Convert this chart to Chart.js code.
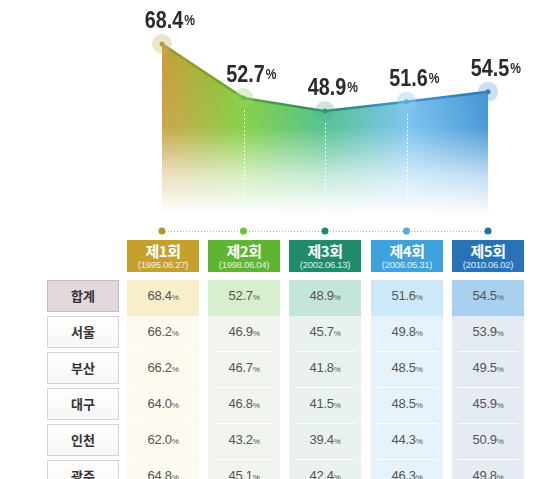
<!DOCTYPE html>
<html>
<head>
<meta charset="utf-8">
<script src="https://cdn.jsdelivr.net/npm/chart.js@4"></script>
<style>
  html, body { margin: 0; padding: 0; background: #fff; }
  body { width: 540px; height: 479px; position: relative; overflow: hidden;
         font-family: "Liberation Sans", "Noto Sans CJK KR", sans-serif; }
  #chartBox { position: absolute; left: 0; top: 0; width: 540px; height: 240px; }
  .cell { position: absolute; box-sizing: border-box; text-align: center; }
  .head { color: #fff; }
  .head .t { font-family: "Noto Sans CJK KR", sans-serif; font-weight: bold; font-size: 15px; line-height: 17px; margin-top: 2px; letter-spacing: -0.5px; }
  .head .d { font-size: 9.5px; line-height: 11px; opacity: 0.85; letter-spacing: -0.3px; }
  .lab { border: 1px solid #d4d4d4; background: linear-gradient(#fff, #f6f6f6);
         font-family: "Noto Sans CJK KR", sans-serif; font-weight: bold; font-size: 13px; color: #333; }
  .lab.sum { background: #e3d8de; border-color: #c9bcc4; }
  .val { font-size: 13px; color: #555; letter-spacing: -0.3px; }
  .val small { font-size: 8px; }
  .sep { position: absolute; height: 1px; background: rgba(255,255,255,0.9); }
</style>
</head>
<body>
<div id="chartBox"><canvas id="turnoutChart" width="540" height="240"></canvas></div>
<div id="table"></div>
<script>
// 역대 지방선거 투표율
const rounds = ['제1회', '제2회', '제3회', '제4회', '제5회'];
const dates = ['(1995.06.27)', '(1998.06.04)', '(2002.06.13)', '(2006.05.31)', '(2010.06.02)'];
const totals = [68.4, 52.7, 48.9, 51.6, 54.5];

const regions = ['서울', '부산', '대구', '인천', '광주'];
const seoul = [66.2, 46.9, 45.7, 49.8, 53.9];
const busan = [66.2, 46.7, 41.8, 48.5, 49.5];
const daegu = [64.0, 46.8, 41.5, 48.5, 45.9];
const incheon = [62.0, 43.2, 39.4, 44.3, 50.9];
const gwangju = [64.8, 45.1, 42.4, 46.3, 49.8];
const regionRows = [seoul, busan, daegu, incheon, gwangju];

// colours per round
const headColors = ['#c6a02c', '#5db532', '#1f8a6c', '#3ea2dc', '#2873b7'];
const dotColors = ['#b8962c', '#6cbf3a', '#1f8a6c', '#5aaade', '#2a6fad'];
const lineColors = ['#a8922a', '#62a82a', '#23886c', '#3f98d2', '#2676b8'];
const fillColors = ['#c89c38', '#7ccc38', '#45bd88', '#72c0ec', '#3a8ed2'];
const haloColors = ['rgba(200,180,110,0.35)', 'rgba(150,210,120,0.35)', 'rgba(90,170,150,0.3)',
                    'rgba(140,200,240,0.4)', 'rgba(80,150,210,0.3)'];
const sumBg = ['#f8eec9', '#d7efcc', '#c3e6d9', '#cde9f9', '#a9d0ee'];
const colBg = ['#fdfaef', '#f0f3ee', '#eaf2f0', '#e6f3fb', '#e5ebf3'];

const FADE_BOTTOM = 215;
const DOT_Y = 231;
const LABEL_FONT = '"Liberation Sans", sans-serif';
const SQUEEZE = 0.86; // condensed look for the big numbers

function hGradient(ctx, area, colors) {
    const g = ctx.createLinearGradient(area.left, 0, area.right, 0);
    colors.forEach((c, i) => g.addColorStop(i / (colors.length - 1), c));
    return g;
}

let fillPattern = null;
function makeFill(chart) {
    if (fillPattern) return fillPattern;
    const area = chart.chartArea;
    const off = document.createElement('canvas');
    off.width = chart.width;
    off.height = chart.height;
    const o = off.getContext('2d');
    o.fillStyle = hGradient(o, area, fillColors);
    o.fillRect(0, 0, off.width, off.height);
    // fade out towards the bottom
    o.globalCompositeOperation = 'destination-in';
    const v = o.createLinearGradient(0, 40, 0, FADE_BOTTOM);
    v.addColorStop(0, 'rgba(0,0,0,1)');
    v.addColorStop(0.5, 'rgba(0,0,0,0.9)');
    v.addColorStop(0.78, 'rgba(0,0,0,0.3)');
    v.addColorStop(1, 'rgba(0,0,0,0)');
    o.fillStyle = v;
    o.fillRect(0, 0, off.width, off.height);
    fillPattern = chart.ctx.createPattern(off, 'no-repeat');
    return fillPattern;
}

const decorPlugin = {
    id: 'decor',
    afterDatasetsDraw(chart) {
        const ctx = chart.ctx;
        const x = chart.scales.x;
        const pts = chart.getDatasetMeta(0).data;
        ctx.save();
        // white dashed drop lines
        ctx.strokeStyle = 'rgba(255,255,255,0.95)';
        ctx.lineWidth = 1;
        ctx.setLineDash([2, 2]);
        pts.forEach((p, i) => {
            if (i === 0 || i === pts.length - 1) return;
            ctx.beginPath();
            ctx.moveTo(Math.round(p.x) + 0.5, p.y + 12);
            ctx.lineTo(Math.round(p.x) + 0.5, FADE_BOTTOM);
            ctx.stroke();
        });
        // dotted baseline with round markers
        ctx.strokeStyle = '#b9b9b9';
        ctx.setLineDash([1, 2]);
        ctx.beginPath();
        ctx.moveTo(x.getPixelForValue(0), DOT_Y + 0.5);
        ctx.lineTo(x.getPixelForValue(totals.length - 1), DOT_Y + 0.5);
        ctx.stroke();
        ctx.setLineDash([]);
        totals.forEach((v, i) => {
            ctx.fillStyle = dotColors[i];
            ctx.beginPath();
            ctx.arc(x.getPixelForValue(i), DOT_Y, 3.5, 0, Math.PI * 2);
            ctx.fill();
        });
        // value labels
        ctx.fillStyle = '#2b2b2b';
        ctx.textBaseline = 'alphabetic';
        ctx.textAlign = 'left';
        pts.forEach((p, i) => {
            const num = totals[i].toFixed(1);
            ctx.font = 'bold 23px ' + LABEL_FONT;
            const w = ctx.measureText(num).width * SQUEEZE;
            const left = p.x - w / 2 + 2;
            const base = p.y - 16;
            ctx.save();
            ctx.translate(left, base);
            ctx.scale(SQUEEZE, 1);
            ctx.fillText(num, 0, 0);
            ctx.restore();
            ctx.font = 'bold 14px ' + LABEL_FONT;
            ctx.save();
            ctx.translate(left + w + 1, base - 3);
            ctx.scale(SQUEEZE, 1);
            ctx.fillText('%', 0, 0);
            ctx.restore();
        });
        ctx.restore();
    }
};

new Chart(document.getElementById('turnoutChart'), {
    type: 'line',
    data: {
        labels: rounds,
        datasets: [{
            data: totals,
            borderColor: (c) => c.chart.chartArea ? hGradient(c.chart.ctx, c.chart.chartArea, lineColors) : lineColors[0],
            borderWidth: 2.5,
            backgroundColor: (c) => c.chart.chartArea ? makeFill(c.chart) : fillColors[0],
            fill: 'start',
            tension: 0,
            pointRadius: 2.5,
            pointBackgroundColor: lineColors,
            pointBorderWidth: 0,
            clip: false,
            order: 2
        }, {
            data: totals,
            showLine: false,
            fill: false,
            pointRadius: 10,
            pointBackgroundColor: haloColors,
            pointBorderWidth: 0,
            clip: false,
            order: 1
        }]
    },
    options: {
        responsive: false,
        animation: false,
        layout: { autoPadding: false, padding: { left: 162, right: 52, top: 0, bottom: 25 } },
        plugins: { legend: { display: false }, tooltip: { enabled: false } },
        scales: {
            x: { display: false, offset: false },
            y: { display: false, min: 18.7, max: 81.2 }
        }
    },
    plugins: [decorPlugin]
});

// table under the chart
const colLeft = [127, 208, 289, 371, 452];
const colW = 72;
const table = document.getElementById('table');

function addCell(cls, left, top, w, h, html, bg) {
    const d = document.createElement('div');
    d.className = 'cell ' + cls;
    d.style.left = left + 'px';
    d.style.top = top + 'px';
    d.style.width = w + 'px';
    d.style.height = h + 'px';
    if (bg) d.style.background = bg;
    d.innerHTML = html;
    table.appendChild(d);
    return d;
}

rounds.forEach((r, i) => {
    addCell('head', colLeft[i], 240, colW, 32,
        '<div class="t">' + r + '</div><div class="d">' + dates[i] + '</div>', headColors[i]);
});

const rowTop = 280, rowPitch = 36;
const allRows = [totals].concat(regionRows);
const allLabels = ['합계'].concat(regions);

allLabels.forEach((name, r) => {
    const top = rowTop + r * rowPitch;
    const lab = addCell('lab' + (r === 0 ? ' sum' : ''), 47, top, 72, 32, name);
    lab.style.lineHeight = '30px';
    allRows[r].forEach((v, i) => {
        const c = addCell('val', colLeft[i], top, colW, rowPitch,
            v.toFixed(1) + '<small>%</small>', r === 0 ? sumBg[i] : colBg[i]);
        c.style.lineHeight = '32px';
        if (r > 0) {
            const s = document.createElement('div');
            s.className = 'sep';
            s.style.left = (colLeft[i] + 6) + 'px';
            s.style.width = (colW - 12) + 'px';
            s.style.top = (top + rowPitch - 1) + 'px';
            table.appendChild(s);
        }
    });
});
</script>
</body>
</html>
